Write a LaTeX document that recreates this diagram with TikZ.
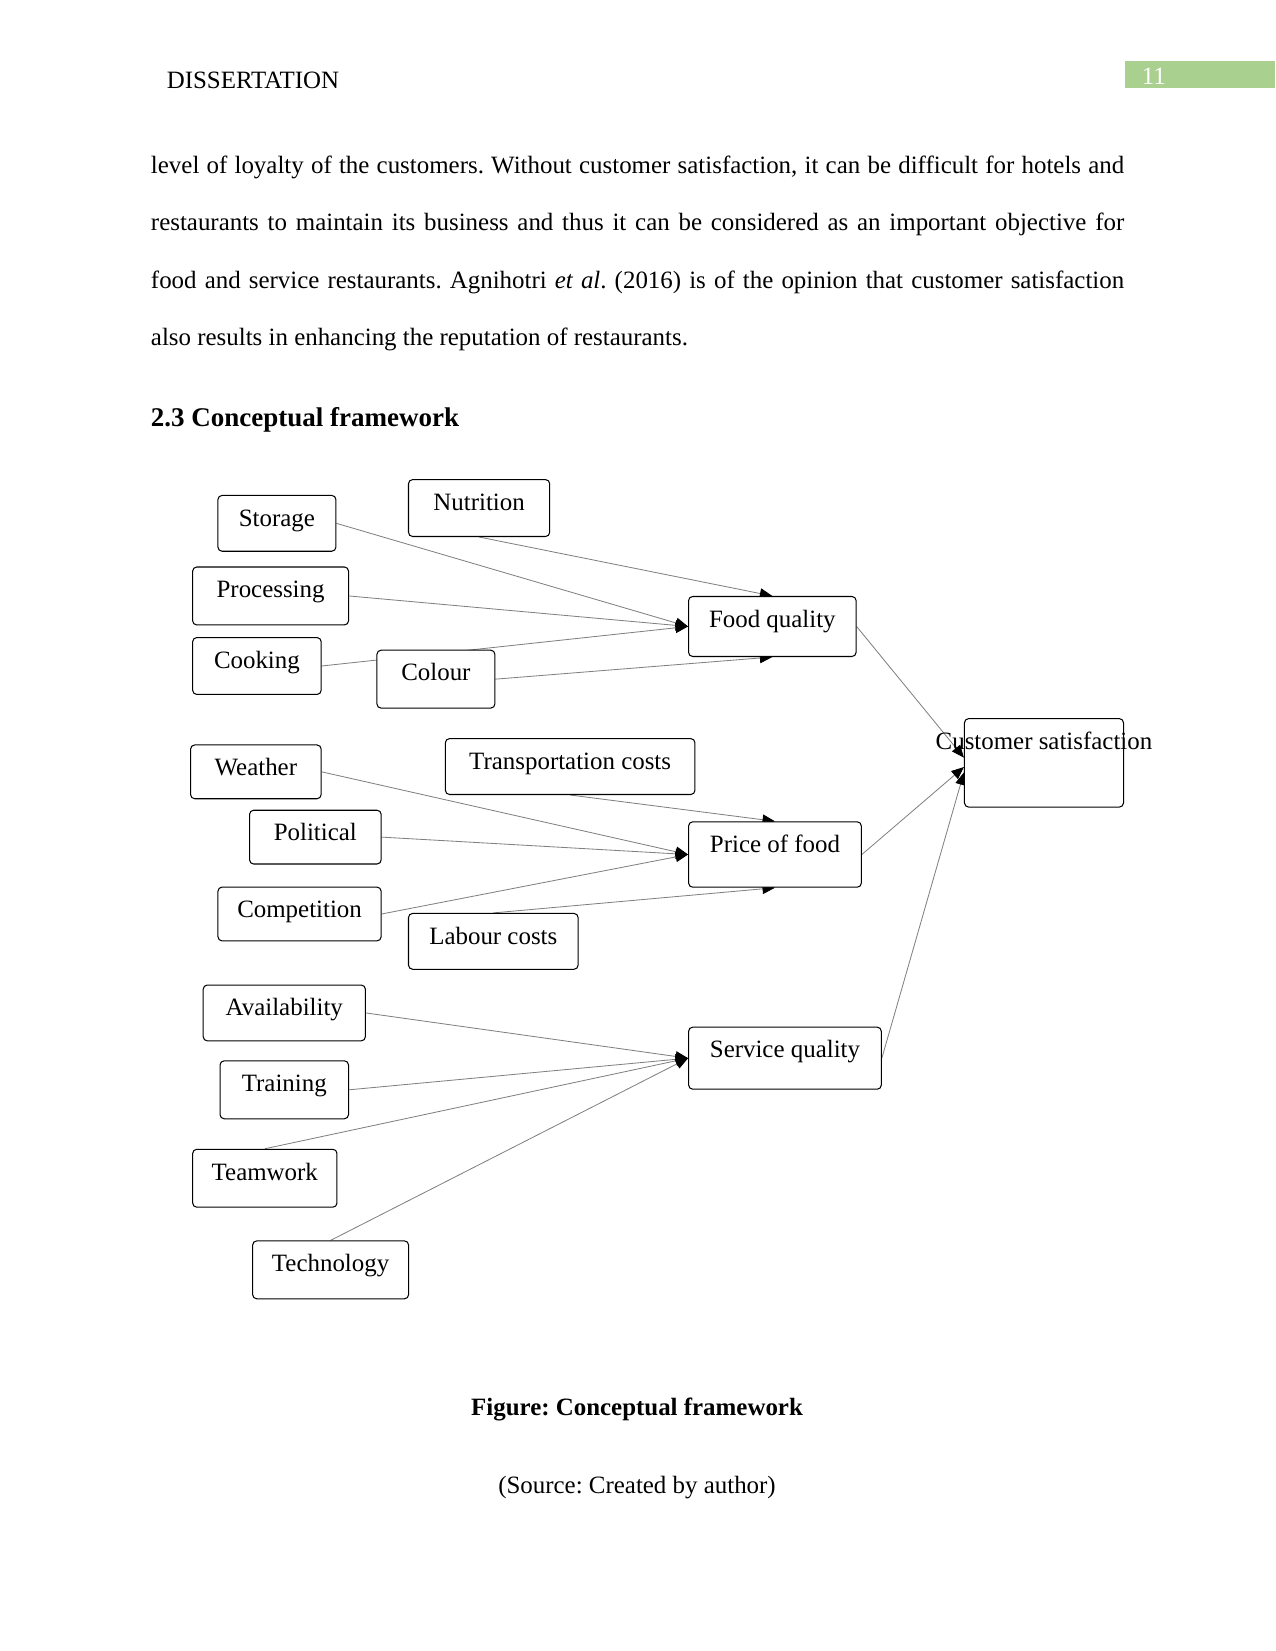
\documentclass[tikz,border=0pt]{standalone}
\usepackage{fontspec}
\setmainfont{Liberation Serif}
\usepackage{xcolor}
\usetikzlibrary{arrows.meta, backgrounds}

\definecolor{headgreen}{HTML}{A9D08E}
\frenchspacing

\begin{document}
\begin{tikzpicture}[x=0.017828cm, y=-0.017828cm,
    every node/.style={font=\fontsize{12}{14.4}\selectfont},
    factor/.style={draw, line width=0.5pt, rounded corners=2pt, fill=white, anchor=north, inner sep=0pt, text height=14.8pt},
    link/.style={draw=gray, line width=0.4pt, -{Triangle[length=6pt, width=5pt, black]}},
    body/.style={anchor=base west, inner sep=0pt}]
  \useasboundingbox (0,0) rectangle (1211,1568);

  % page head
  \node[body] (head) at (158,84) {DISSERTATION};
  \fill[headgreen] (1068,58) rectangle (1211,84);
  \node[body, text=white] (pageno) at (1084,80) {11};

  % running text
  \node[body] (line1) at (143,165) {\makebox[468.7pt][s]{level of loyalty of the customers. Without customer satisfaction, it can be difficult for hotels and}};
  \node[body] (line2) at (143,219) {\makebox[468.7pt][s]{restaurants to maintain its business and thus it can be considered as an important objective for}};
  \node[body] (line3) at (143,274) {\makebox[468.7pt][s]{food and service restaurants. Agnihotri \textit{et al}. (2016) is of the opinion that customer satisfaction}};
  \node[body] (line4) at (143,328) {also results in enhancing the reputation of restaurants.};
  \node[body, font=\fontsize{13}{15.6}\selectfont\bfseries] (heading) at (143,405) {2.3 Conceptual framework};

  % food quality group
  \node[factor, minimum width=56.8pt, text depth=12.1pt] (storage) at (263,470) {Storage};
  \node[factor, minimum width=68.0pt, text depth=12.6pt] (nutrition) at (455,455) {Nutrition};
  \node[factor, minimum width=75.1pt, text depth=13.1pt] (processing) at (257,538) {Processing};
  \node[factor, minimum width=61.9pt, text depth=12.6pt] (cooking) at (244,605) {Cooking};
  \node[factor, minimum width=56.8pt, text depth=13.1pt] (colour) at (414,617) {Colour};
  \node[factor, minimum width=80.7pt, text depth=14.1pt] (foodq) at (733.5,566) {Food quality};

  % price group
  \node[factor, minimum width=62.9pt, text depth=11.1pt] (weather) at (243,707) {Weather};
  \node[factor, minimum width=120.2pt, text depth=12.1pt] (transport) at (541.5,701) {Transportation costs};
  \node[factor, minimum width=63.4pt, text depth=11.1pt] (political) at (299.5,769) {Political};
  \node[factor, minimum width=78.6pt, text depth=11.1pt] (competition) at (284.5,842) {Competition};
  \node[factor, minimum width=81.7pt, text depth=12.1pt] (labour) at (468.5,867) {Labour costs};
  \node[factor, minimum width=83.2pt, text depth=16.7pt] (price) at (736,780) {Price of food};

  % service group
  \node[factor, minimum width=78.1pt, text depth=12.1pt] (availability) at (270,935) {Availability};
  \node[factor, minimum width=61.9pt, text depth=13.1pt] (training) at (270,1007) {Training};
  \node[factor, minimum width=69.5pt, text depth=13.1pt] (teamwork) at (251.5,1091) {Teamwork};
  \node[factor, minimum width=75.1pt, text depth=13.1pt] (technology) at (314,1178) {Technology};
  \node[factor, minimum width=92.8pt, text depth=15.1pt] (service) at (745.5,975) {Service quality};

  % outcome
  \node[factor, minimum width=76.6pt, text depth=27.8pt] (custsat) at (991.5,682) {\makebox[0pt]{Customer satisfaction}};

  \begin{scope}[on background layer]
    \draw[link] (storage.east) -- (foodq.west);
    \draw[link] (processing.east) -- (foodq.west);
    \draw[link] (cooking.east) -- (foodq.west);
    \draw[link] (nutrition.south) -- (foodq.north);
    \draw[link] (colour.east) -- (foodq.south);

    \draw[link] (weather.east) -- (price.west);
    \draw[link] (political.east) -- (price.west);
    \draw[link] (competition.east) -- (price.west);
    \draw[link] (transport.south) -- (price.north);
    \draw[link] (labour.north) -- (price.south);

    \draw[link] (availability.east) -- (service.west);
    \draw[link] (training.east) -- (service.west);
    \draw[link] (teamwork.north) -- (service.west);
    \draw[link] (technology.north) -- (service.west);

    \draw[link] (foodq.east) -- ([yshift=2.5pt]custsat.west);
    \draw[link] (price.east) -- ([yshift=-2pt]custsat.west);
    \draw[link] (service.east) -- ([yshift=-4.6pt]custsat.west);
  \end{scope}

  % caption
  \node[anchor=base, inner sep=0pt] (caption) at (605,1344) {\textbf{Figure: Conceptual framework}};
  \node[anchor=base, inner sep=0pt] (source) at (605,1418) {(Source: Created by author)};
\end{tikzpicture}
\end{document}
